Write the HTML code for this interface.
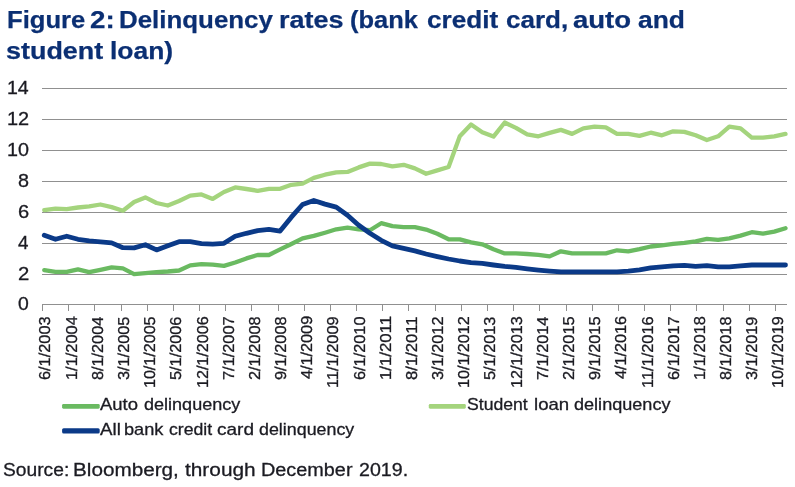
<!DOCTYPE html>
<html lang="en"><head><meta charset="utf-8"><title>Figure 2: Delinquency rates</title>
<style>
html,body{margin:0;padding:0;background:#fff;}
body{width:795px;height:487px;position:relative;overflow:hidden;font-family:"Liberation Sans",Arial,sans-serif;}
.w{position:absolute;white-space:pre;line-height:1;transform-origin:0 0;}
.t{font-size:24.3px;font-weight:700;color:#0b2f73;-webkit-text-stroke:0.25px #0b2f73;}
.s{font-size:18.9px;color:#1b1b22;-webkit-text-stroke:0.3px #1b1b22;}
.l{font-size:16.6px;color:#1b1b22;-webkit-text-stroke:0.3px #1b1b22;}
.y{font-size:18.2px;color:#1b1b22;-webkit-text-stroke:0.3px #1b1b22;}
.x{position:absolute;white-space:pre;line-height:1;font-size:15.8px;color:#1b1b22;-webkit-text-stroke:0.3px #1b1b22;transform-origin:0 0;transform:rotate(-89.93deg);}
svg{position:absolute;left:0;top:0;}
</style></head><body>
<svg width="795" height="487" viewBox="0 0 795 487">
<g stroke="#909090" stroke-width="1" fill="none" shape-rendering="crispEdges">
<line x1="42.0" y1="304.5" x2="787.0" y2="304.5"/>
<line x1="42.0" y1="274.5" x2="787.0" y2="274.5"/>
<line x1="42.0" y1="243.5" x2="787.0" y2="243.5"/>
<line x1="42.0" y1="212.5" x2="787.0" y2="212.5"/>
<line x1="42.0" y1="181.5" x2="787.0" y2="181.5"/>
<line x1="42.0" y1="150.5" x2="787.0" y2="150.5"/>
<line x1="42.0" y1="119.5" x2="787.0" y2="119.5"/>
<line x1="42.0" y1="88.5" x2="787.0" y2="88.5"/>
<line x1="42.5" y1="304" x2="42.5" y2="311"/>
<line x1="68.5" y1="304" x2="68.5" y2="311"/>
<line x1="94.5" y1="304" x2="94.5" y2="311"/>
<line x1="121.5" y1="304" x2="121.5" y2="311"/>
<line x1="147.5" y1="304" x2="147.5" y2="311"/>
<line x1="173.5" y1="304" x2="173.5" y2="311"/>
<line x1="199.5" y1="304" x2="199.5" y2="311"/>
<line x1="225.5" y1="304" x2="225.5" y2="311"/>
<line x1="251.5" y1="304" x2="251.5" y2="311"/>
<line x1="278.5" y1="304" x2="278.5" y2="311"/>
<line x1="304.5" y1="304" x2="304.5" y2="311"/>
<line x1="330.5" y1="304" x2="330.5" y2="311"/>
<line x1="356.5" y1="304" x2="356.5" y2="311"/>
<line x1="382.5" y1="304" x2="382.5" y2="311"/>
<line x1="408.5" y1="304" x2="408.5" y2="311"/>
<line x1="435.5" y1="304" x2="435.5" y2="311"/>
<line x1="461.5" y1="304" x2="461.5" y2="311"/>
<line x1="487.5" y1="304" x2="487.5" y2="311"/>
<line x1="513.5" y1="304" x2="513.5" y2="311"/>
<line x1="539.5" y1="304" x2="539.5" y2="311"/>
<line x1="566.5" y1="304" x2="566.5" y2="311"/>
<line x1="592.5" y1="304" x2="592.5" y2="311"/>
<line x1="618.5" y1="304" x2="618.5" y2="311"/>
<line x1="644.5" y1="304" x2="644.5" y2="311"/>
<line x1="670.5" y1="304" x2="670.5" y2="311"/>
<line x1="696.5" y1="304" x2="696.5" y2="311"/>
<line x1="723.5" y1="304" x2="723.5" y2="311"/>
<line x1="749.5" y1="304" x2="749.5" y2="311"/>
<line x1="775.5" y1="304" x2="775.5" y2="311"/>
</g>
<g fill="none" stroke-linejoin="round" stroke-linecap="round">
<polyline stroke="#6aba61" stroke-width="4.3" points="44.25,270.05 55.48,271.90 66.71,271.90 77.94,269.40 89.17,272.10 100.41,269.80 111.64,267.40 122.87,268.40 134.10,274.10 145.33,273.10 156.56,272.10 167.79,271.50 179.02,270.50 190.25,265.40 201.48,264.10 212.72,264.70 223.95,265.90 235.18,262.50 246.41,258.40 257.64,255.00 268.87,255.00 280.10,249.40 291.33,244.00 302.56,238.30 313.79,235.90 325.02,232.70 336.26,229.30 347.49,227.70 358.72,229.40 369.95,230.20 381.18,223.20 392.41,226.20 403.64,227.20 414.87,227.20 426.10,229.60 437.33,233.80 448.57,239.30 459.80,239.30 471.03,242.30 482.26,244.30 493.49,249.30 504.72,253.40 515.95,253.40 527.18,254.00 538.41,254.80 549.64,256.40 560.88,251.30 572.11,253.40 583.34,253.40 594.57,253.40 605.80,253.40 617.03,250.30 628.26,251.30 639.49,249.10 650.72,246.50 661.96,245.30 673.19,243.90 684.42,242.90 695.65,241.30 706.88,238.90 718.11,239.90 729.34,238.30 740.57,235.60 751.80,232.20 763.03,233.60 774.26,231.60 785.50,228.20"/>
<polyline stroke="#a4d47d" stroke-width="4.3" points="44.25,210.10 55.48,208.70 66.71,209.10 77.94,207.50 89.17,206.30 100.41,204.50 111.64,207.10 122.87,210.70 134.10,202.00 145.33,197.40 156.56,203.00 167.79,205.50 179.02,201.00 190.25,195.60 201.48,194.40 212.72,198.90 223.95,192.00 235.18,187.40 246.41,189.00 257.64,190.80 268.87,188.80 280.10,188.80 291.33,184.80 302.56,183.60 313.79,177.90 325.02,174.70 336.26,172.30 347.49,171.90 358.72,167.40 369.95,163.60 381.18,164.00 392.41,166.40 403.64,164.80 414.87,168.40 426.10,173.80 437.33,170.40 448.57,167.00 459.80,136.20 471.03,124.50 482.26,132.20 493.49,136.60 504.72,122.50 515.95,127.90 527.18,134.30 538.41,136.30 549.64,132.90 560.88,129.90 572.11,133.90 583.34,128.30 594.57,126.70 605.80,127.30 617.03,133.90 628.26,133.90 639.49,135.90 650.72,132.70 661.96,135.30 673.19,131.30 684.42,131.90 695.65,135.30 706.88,140.00 718.11,136.30 729.34,126.70 740.57,128.30 751.80,137.70 763.03,137.70 774.26,136.30 785.50,133.90"/>
<polyline stroke="#0b3a88" stroke-width="4.8" points="44.25,235.20 55.48,239.30 66.71,236.20 77.94,239.30 89.17,240.90 100.41,241.90 111.64,242.90 122.87,247.70 134.10,247.90 145.33,244.70 156.56,249.90 167.79,245.70 179.02,241.70 190.25,241.70 201.48,243.60 212.72,244.20 223.95,243.30 235.18,236.30 246.41,233.30 257.64,230.70 268.87,229.30 280.10,231.10 291.33,217.20 302.56,204.50 313.79,200.50 325.02,204.10 336.26,207.10 347.49,215.20 358.72,225.20 369.95,233.20 381.18,240.30 392.41,245.90 403.64,248.30 414.87,250.90 426.10,254.00 437.33,256.60 448.57,259.00 459.80,261.00 471.03,262.60 482.26,263.40 493.49,265.00 504.72,266.40 515.95,267.40 527.18,268.80 538.41,270.05 549.64,271.05 560.88,271.90 572.11,271.90 583.34,271.90 594.57,271.90 605.80,271.90 617.03,271.90 628.26,271.05 639.49,269.85 650.72,267.80 661.96,266.80 673.19,265.80 684.42,265.40 695.65,266.40 706.88,265.60 718.11,266.80 729.34,266.80 740.57,265.80 751.80,265.00 763.03,265.00 774.26,265.00 785.50,265.00"/>
</g>
<rect fill="#6aba61" x="62.1" y="403.95" width="37.6" height="4.7" rx="1.3"/>
<rect fill="#a4d47d" x="428.8" y="403.95" width="37.0" height="4.7" rx="1.3"/>
<rect fill="#0b3a88" x="62.1" y="428.15" width="37.6" height="5.4" rx="1.6"/>
</svg>
<span class="w t" style="left:6.57px;top:7.53px;transform:scaleX(1.0542)">Figure</span>
<span class="w t" style="left:90.23px;top:7.53px;transform:scaleX(1.1412)">2:</span>
<span class="w t" style="left:118.95px;top:7.53px;transform:scaleX(1.0652)">Delinquency</span>
<span class="w t" style="left:278.95px;top:7.53px;transform:scaleX(1.1094)">rates</span>
<span class="w t" style="left:350.43px;top:7.53px;transform:scaleX(1.0471)">(bank</span>
<span class="w t" style="left:427.32px;top:7.53px;transform:scaleX(1.0769)">credit</span>
<span class="w t" style="left:506.12px;top:7.53px;transform:scaleX(1.0704)">card,</span>
<span class="w t" style="left:572.94px;top:7.53px;transform:scaleX(1.1329)">auto</span>
<span class="w t" style="left:637.67px;top:7.53px;transform:scaleX(1.0868)">and</span>
<span class="w t" style="left:6.36px;top:39.13px;transform:scaleX(1.1082)">student</span>
<span class="w t" style="left:109.85px;top:39.13px;transform:scaleX(1.0877)">loan)</span>
<span class="w s" style="left:3.28px;top:461.40px;transform:scaleX(1.0174)">Source:</span>
<span class="w s" style="left:72.99px;top:461.40px;transform:scaleX(1.0957)">Bloomberg,</span>
<span class="w s" style="left:185.38px;top:461.40px;transform:scaleX(1.1025)">through</span>
<span class="w s" style="left:260.86px;top:461.40px;transform:scaleX(1.0500)">December</span>
<span class="w s" style="left:358.72px;top:461.40px;transform:scaleX(1.0392)">2019.</span>
<span class="w l" style="left:99.95px;top:397.45px;transform:scaleX(1.1135)">Auto</span>
<span class="w l" style="left:143.53px;top:397.45px;transform:scaleX(1.0870)">delinquency</span>
<span class="w l" style="left:466.81px;top:397.45px;transform:scaleX(1.0611)">Student</span>
<span class="w l" style="left:533.59px;top:397.45px;transform:scaleX(1.1210)">loan</span>
<span class="w l" style="left:573.93px;top:397.45px;transform:scaleX(1.0893)">delinquency</span>
<span class="w l" style="left:99.95px;top:422.45px;transform:scaleX(1.1268)">All</span>
<span class="w l" style="left:124.02px;top:422.45px;transform:scaleX(1.0945)">bank</span>
<span class="w l" style="left:168.65px;top:422.45px;transform:scaleX(1.0640)">credit</span>
<span class="w l" style="left:216.93px;top:422.45px;transform:scaleX(1.1465)">card</span>
<span class="w l" style="left:259.44px;top:422.45px;transform:scaleX(1.0756)">delinquency</span>
<span class="w y" style="left:17.87px;top:295.49px;transform:scaleX(1.0646)">0</span>
<span class="w y" style="left:17.58px;top:265.49px;transform:scaleX(1.1169)">2</span>
<span class="w y" style="left:18.09px;top:234.49px;transform:scaleX(1.0319)">4</span>
<span class="w y" style="left:17.59px;top:203.49px;transform:scaleX(1.1048)">6</span>
<span class="w y" style="left:17.76px;top:172.49px;transform:scaleX(1.0872)">8</span>
<span class="w y" style="left:7.12px;top:141.49px;transform:scaleX(1.0851)">10</span>
<span class="w y" style="left:7.10px;top:110.49px;transform:scaleX(1.0961)">12</span>
<span class="w y" style="left:7.13px;top:79.49px;transform:scaleX(1.0744)">14</span>
<span class="x" style="left:37.48px;top:379.72px;transform:rotate(-89.93deg) scaleX(1.0343)">6/1/2003</span>
<span class="x" style="left:63.65px;top:380.13px;transform:rotate(-89.93deg) scaleX(1.0370)">1/1/2004</span>
<span class="x" style="left:89.83px;top:379.59px;transform:rotate(-89.93deg) scaleX(1.0282)">8/1/2004</span>
<span class="x" style="left:116.00px;top:379.51px;transform:rotate(-89.93deg) scaleX(1.0302)">3/1/2005</span>
<span class="x" style="left:142.18px;top:387.71px;transform:rotate(-89.93deg) scaleX(1.0182)">10/1/2005</span>
<span class="x" style="left:168.35px;top:379.55px;transform:rotate(-89.93deg) scaleX(1.0316)">5/1/2006</span>
<span class="x" style="left:194.53px;top:387.71px;transform:rotate(-89.93deg) scaleX(1.0188)">12/1/2006</span>
<span class="x" style="left:220.70px;top:379.72px;transform:rotate(-89.93deg) scaleX(1.0357)">7/1/2007</span>
<span class="x" style="left:246.88px;top:379.72px;transform:rotate(-89.93deg) scaleX(1.0343)">2/1/2008</span>
<span class="x" style="left:273.05px;top:379.68px;transform:rotate(-89.93deg) scaleX(1.0336)">9/1/2008</span>
<span class="x" style="left:299.23px;top:379.27px;transform:rotate(-89.93deg) scaleX(1.0276)">4/1/2009</span>
<span class="x" style="left:325.40px;top:387.73px;transform:rotate(-89.93deg) scaleX(1.0374)">11/1/2009</span>
<span class="x" style="left:351.58px;top:379.72px;transform:rotate(-89.93deg) scaleX(1.0330)">6/1/2010</span>
<span class="x" style="left:377.75px;top:380.16px;transform:rotate(-89.93deg) scaleX(1.0637)">1/1/2011</span>
<span class="x" style="left:403.93px;top:379.61px;transform:rotate(-89.93deg) scaleX(1.0544)">8/1/2011</span>
<span class="x" style="left:430.10px;top:379.51px;transform:rotate(-89.93deg) scaleX(1.0323)">3/1/2012</span>
<span class="x" style="left:456.28px;top:387.71px;transform:rotate(-89.93deg) scaleX(1.0200)">10/1/2012</span>
<span class="x" style="left:482.45px;top:379.55px;transform:rotate(-89.93deg) scaleX(1.0316)">5/1/2013</span>
<span class="x" style="left:508.63px;top:387.71px;transform:rotate(-89.93deg) scaleX(1.0188)">12/1/2013</span>
<span class="x" style="left:534.80px;top:379.71px;transform:rotate(-89.93deg) scaleX(1.0302)">7/1/2014</span>
<span class="x" style="left:560.98px;top:379.72px;transform:rotate(-89.93deg) scaleX(1.0336)">2/1/2015</span>
<span class="x" style="left:587.15px;top:379.68px;transform:rotate(-89.93deg) scaleX(1.0330)">9/1/2015</span>
<span class="x" style="left:613.33px;top:379.27px;transform:rotate(-89.93deg) scaleX(1.0269)">4/1/2016</span>
<span class="x" style="left:639.50px;top:387.73px;transform:rotate(-89.93deg) scaleX(1.0368)">11/1/2016</span>
<span class="x" style="left:665.68px;top:379.72px;transform:rotate(-89.93deg) scaleX(1.0357)">6/1/2017</span>
<span class="x" style="left:691.85px;top:380.13px;transform:rotate(-89.93deg) scaleX(1.0412)">1/1/2018</span>
<span class="x" style="left:718.03px;top:379.59px;transform:rotate(-89.93deg) scaleX(1.0323)">8/1/2018</span>
<span class="x" style="left:744.20px;top:379.51px;transform:rotate(-89.93deg) scaleX(1.0316)">3/1/2019</span>
<span class="x" style="left:770.38px;top:387.71px;transform:rotate(-89.93deg) scaleX(1.0194)">10/1/2019</span>
</body></html>
